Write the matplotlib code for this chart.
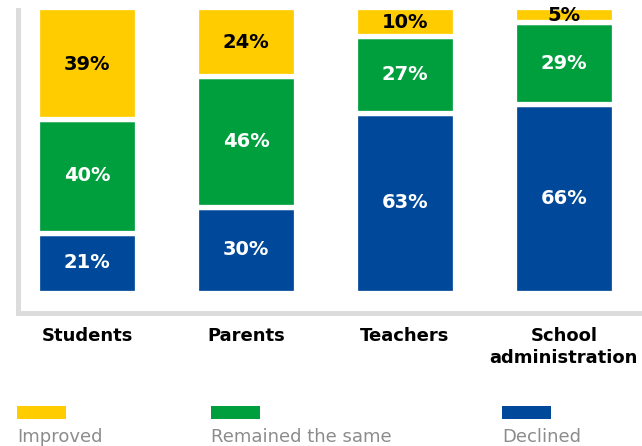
import matplotlib
matplotlib.use("Agg")
import matplotlib.pyplot as plt
from matplotlib.patches import Rectangle
import numpy as np

# Share of respondents by group (percent)
categories = ["Students", "Parents", "Teachers", "School\nadministration"]
declined = [21, 30, 63, 66]
same = [40, 46, 27, 29]
improved = [39, 24, 10, 5]

series_names = ["Improved", "Remained the same", "Declined"]
colors = {"Improved": "#FFCC00", "Remained the same": "#009F3D", "Declined": "#00489A"}
label_colors = {"Improved": "black", "Remained the same": "white", "Declined": "white"}

W, H = 642, 446
fig = plt.figure(figsize=(W / 100, H / 100), dpi=100)

ax_left, ax_bottom, ax_top = 17.5, 312.5, 10.0
ax = fig.add_axes([ax_left / W, 1 - ax_bottom / H, 1 - ax_left / W, (ax_bottom - ax_top) / H])

y_lo, y_hi = -6.98, 99.1
ax.set_ylim(y_lo, y_hi)
ax.set_xlim(-0.437, 3.491)

x = np.arange(len(categories))
width = 0.633

stack = [("Declined", declined), ("Remained the same", same), ("Improved", improved)]
bottom = np.zeros(len(categories))
for name, vals in stack:
    vals = np.array(vals, dtype=float)
    ax.bar(x, vals, width, bottom=bottom, color=colors[name],
           edgecolor="white", linewidth=3.8, zorder=2)
    for xi, b, v in zip(x, bottom, vals):
        top = min(b + v, y_hi)
        ax.text(xi, (b + top) / 2, f"{int(v)}%", ha="center", va="center",
                color=label_colors[name], fontsize=14, fontweight="bold",
                family="DejaVu Sans", zorder=3)
    bottom += vals

# Axis frame: only left and bottom, thick light grey
for side in ("top", "right"):
    ax.spines[side].set_visible(False)
for side in ("left", "bottom"):
    ax.spines[side].set_color("#DCDCDC")
    ax.spines[side].set_linewidth(3.6)
ax.set_yticks([])
ax.set_xticks(x, categories)
ax.tick_params(axis="x", length=0, pad=10.5)
for lbl in ax.get_xticklabels():
    lbl.set_fontsize(13)
    lbl.set_fontweight("bold")
    lbl.set_color("black")
    lbl.set_linespacing(1.3)

# Legend: swatch above each label
legend_x = [17, 211, 502]
for name, lx in zip(series_names, legend_x):
    fig.add_artist(Rectangle((lx / W, 1 - 419 / H), 49 / W, 13 / H,
                             transform=fig.transFigure, facecolor=colors[name],
                             edgecolor="none"))
    fig.text(lx / W, 1 - 442 / H, name, ha="left", va="baseline",
             color="#8C8C8C", fontsize=13)

fig.savefig("out.png", dpi=100, facecolor="white")
